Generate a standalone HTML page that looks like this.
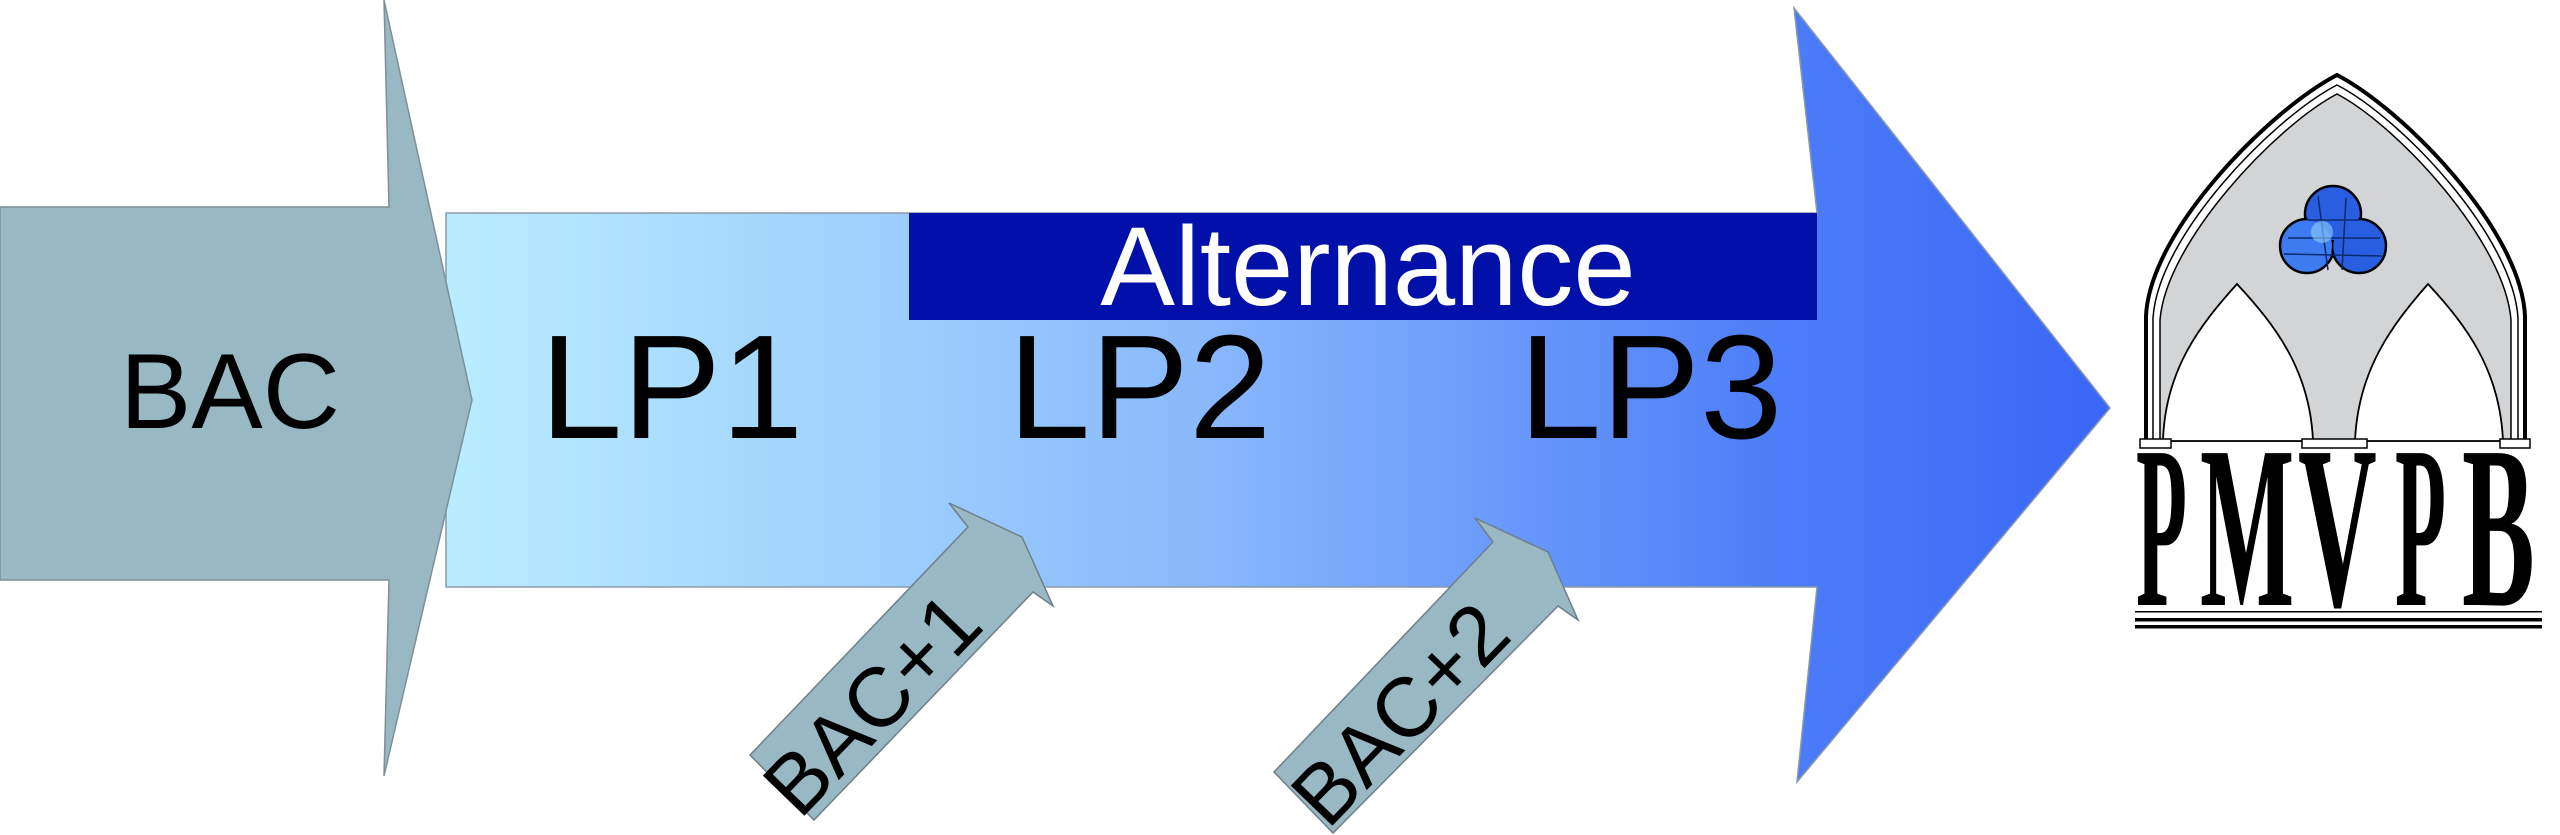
<!DOCTYPE html>
<html><head><meta charset="utf-8"><style>
html,body{margin:0;padding:0;background:#fff;width:2560px;height:835px;overflow:hidden}
svg{display:block}
</style></head><body>
<svg width="2560" height="835" viewBox="0 0 2560 835" xmlns="http://www.w3.org/2000/svg" font-family="Liberation Sans, sans-serif">
<defs>
<linearGradient id="g" x1="446" y1="0" x2="2111" y2="0" gradientUnits="userSpaceOnUse">
<stop offset="0" stop-color="#b9edfe"/>
<stop offset="0.45" stop-color="#8ab9fc"/>
<stop offset="0.8" stop-color="#4c7df8"/>
<stop offset="1" stop-color="#3a66f6"/>
</linearGradient>
</defs>
<polygon points="446,213 1817,213 1794,8 2110,408 1797,782 1817,587 446,587" fill="url(#g)" stroke="#8a9aa8" stroke-width="1.5"/>
<rect x="909" y="213" width="908" height="107" fill="#0010a8"/>
<text x="1368" y="305" font-size="112" fill="#fff" text-anchor="middle">Alternance</text>
<polygon points="0,207 389,207 384,0 472,400 384,776 389,580 0,580" fill="#98b8c4" stroke="#7f8f98" stroke-width="1.5"/>
<text x="120" y="428" font-size="107" fill="#000">BAC</text>
<text x="540" y="438" font-size="148" fill="#000">LP1</text>
<text x="1008" y="438" font-size="148" fill="#000">LP2</text>
<text x="1519" y="438" font-size="148" fill="#000">LP3</text>
<polygon points="750,755 814,820 1033,592 1053,606 1022,537 949,503 968,527" fill="#98b8c4" stroke="#6f7f88" stroke-width="1.5"/>
<text x="872" y="704" font-size="84" fill="#000" text-anchor="middle" dominant-baseline="central" transform="rotate(-46 872 704)">BAC+1</text>
<polygon points="1274,772 1333,833 1558,606 1578,620 1548,552 1475,518 1493,542" fill="#98b8c4" stroke="#6f7f88" stroke-width="1.5"/>
<text x="1400" y="714" font-size="84" fill="#000" text-anchor="middle" dominant-baseline="central" transform="rotate(-46 1400 714)">BAC+2</text>
<g>
<path d="M2146,441 L2146,316 C2150,230 2270,110 2337,75 C2404,110 2521,230 2525,316 L2525,441" fill="#fff" stroke="#000" stroke-width="4"/>
<path d="M2153,441 L2153,318 C2158,236 2273,118 2337,85 C2401,118 2513,236 2518,318 L2518,441" fill="none" stroke="#000" stroke-width="1.5"/>
<path d="M2160,441 L2160,320 C2166,242 2276,126 2337,94 C2398,126 2505,242 2511,320 L2511,441 Z" fill="#d2d4d6" stroke="#000" stroke-width="1.5"/>
<path d="M2163,441 C2165,370 2200,325 2237,284 C2275,325 2310,370 2313,441 Z" fill="#fff" stroke="#000" stroke-width="1.8"/>
<path d="M2355,441 C2358,370 2392,325 2428,284 C2466,325 2500,370 2503,441 Z" fill="#fff" stroke="#000" stroke-width="1.8"/>
<g stroke="#000" stroke-width="2.5">
<circle cx="2333" cy="214" r="28" fill="#2a5ee0"/>
<circle cx="2307" cy="246" r="27" fill="#3c7cf0"/>
<circle cx="2359" cy="246" r="27" fill="#2a5ee0"/>
</g>
<circle cx="2333" cy="214" r="26" fill="#2a5ee0"/>
<circle cx="2307" cy="246" r="25" fill="#3c7cf0"/>
<circle cx="2359" cy="246" r="25" fill="#2a5ee0"/>
<path d="M2308,220 L2360,220 M2288,238 L2380,238 M2318,196 L2328,270 M2346,198 L2342,270 M2284,254 L2382,256" stroke="#0a2a70" stroke-width="1.5" fill="none"/>
<circle cx="2322" cy="232" r="11" fill="#8fd0ff" opacity="0.6"/>
<rect x="2140" y="439" width="31" height="9" fill="#fff" stroke="#000" stroke-width="1.5"/>
<rect x="2302" y="439" width="65" height="9" fill="#fff" stroke="#000" stroke-width="1.5"/>
<rect x="2500" y="439" width="30" height="9" fill="#fff" stroke="#000" stroke-width="1.5"/>
<g style="font-family:'Liberation Serif',serif;font-weight:bold" font-size="232" fill="#000">
<text transform="translate(2136,605) scale(0.36,1)">P</text>
<text transform="translate(2200,605) scale(0.43,1)">M</text>
<text transform="translate(2298,605) scale(0.47,1)">V</text>
<text transform="translate(2395,605) scale(0.36,1)">P</text>
<text transform="translate(2462,605) scale(0.47,1)">B</text>
</g>
<rect x="2135" y="611" width="407" height="1.5" fill="#000"/>
<rect x="2135" y="618" width="407" height="3.5" fill="#000"/>
<rect x="2135" y="625" width="407" height="3.5" fill="#000"/>
</g>
</svg>
</body></html>
